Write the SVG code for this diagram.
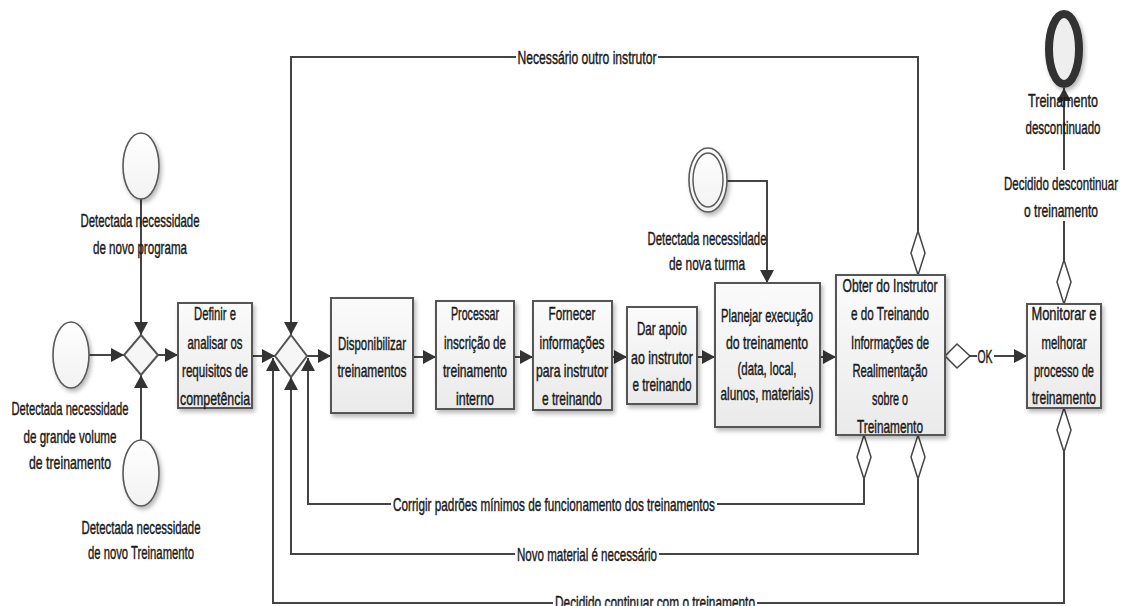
<svg xmlns="http://www.w3.org/2000/svg" width="1121" height="606" viewBox="0 0 1121 606">
<style>
.t{font-family:"Liberation Sans",Arial,sans-serif;font-size:19px;fill:#1a1a1a;stroke:#1a1a1a;stroke-width:0.45px;text-anchor:middle}
.bgw{fill:#fff}
.box{fill:url(#bg);stroke:#555;stroke-width:2;filter:url(#sh)}
.ev{fill:url(#eg);stroke:#5a5a5a;stroke-width:1.6;filter:url(#sh)}
.gw{fill:#f6f6f6;stroke:#555;stroke-width:2}
.cd{fill:#fff;stroke:#444;stroke-width:1.5}
.ln{fill:none;stroke:#444;stroke-width:2}
.ar{marker-end:url(#ah)}
</style>
<defs>
<linearGradient id="bg" x1="0" y1="0" x2="0" y2="1"><stop offset="0" stop-color="#fbfbfb"/><stop offset="1" stop-color="#eaeaea"/></linearGradient>
<linearGradient id="eg" x1="0" y1="0" x2="0" y2="1"><stop offset="0" stop-color="#ffffff"/><stop offset="1" stop-color="#f2f2f2"/></linearGradient>
<filter id="sh" x="-20%" y="-20%" width="150%" height="150%"><feDropShadow dx="2" dy="3" stdDeviation="2" flood-color="#000" flood-opacity="0.28"/></filter>
<marker id="ah" markerUnits="userSpaceOnUse" markerWidth="14" markerHeight="14" refX="13" refY="7" orient="auto"><path d="M0,0 L13,7 L0,14 z" fill="#333"/></marker>
</defs>

<g id="connectors">
<path class="ln ar" d="M141,199 V335"/>
<path class="ln ar" d="M89,355 H124"/>
<path class="ln ar" d="M141,440 V375"/>
<path class="ln ar" d="M158,355 H178"/>
<path class="ln ar" d="M252,356 H275"/>
<path class="ln ar" d="M307,356 H331"/>
<path class="ln ar" d="M413,357 H436"/>
<path class="ln ar" d="M514,357 H533"/>
<path class="ln ar" d="M612,357 H627"/>
<path class="ln ar" d="M697,357 H715"/>
<path class="ln ar" d="M820,357 H836"/>
<path class="ln ar" d="M727,181 H767 V283"/>
<path class="ln" d="M970,356 H977"/>
<path class="ln ar" d="M994,356 H1027"/>
<path class="ln ar" d="M918,231 V57 H291 V335"/>
<path class="ln ar" d="M864,479 V504 H308 V358"/>
<path class="ln ar" d="M918,479 V554 H291 V377"/>
<path class="ln ar" d="M1064,452 V603 H273 V358"/>
<path class="ln" d="M1064,260 V221"/>
<path class="ln ar" d="M1064,170 V88"/>
<polygon class="cd" points="918,231 925,253 918,275 911,253"/>
<polygon class="cd" points="864,435 871,457 864,479 857,457"/>
<polygon class="cd" points="918,435 925,457 918,479 911,457"/>
<polygon class="cd" points="1064,260 1071,282 1064,304 1057,282"/>
<polygon class="cd" points="1064,408 1071,430 1064,452 1057,430"/>
<polygon class="cd" points="945,356 957,344 970,356 957,368"/>
<rect class="bgw" x="516" y="47" width="142" height="20"/>
<rect class="bgw" x="391" y="494" width="326" height="20"/>
<rect class="bgw" x="515" y="544" width="144" height="20"/>
<rect class="bgw" x="553" y="594" width="204" height="12"/>
<text class="t" x="985" y="363" textLength="15" lengthAdjust="spacingAndGlyphs">OK</text>
<text class="t" x="587" y="64" textLength="139" lengthAdjust="spacingAndGlyphs">Necessário outro instrutor</text>
<text class="t" x="554" y="511" textLength="322" lengthAdjust="spacingAndGlyphs">Corrigir padrões mínimos de funcionamento dos treinamentos</text>
<text class="t" x="587" y="561" textLength="140" lengthAdjust="spacingAndGlyphs">Novo material é necessário</text>
<text class="t" x="655" y="609" textLength="200" lengthAdjust="spacingAndGlyphs">Decidido continuar com o treinamento</text>
<text class="t" x="1061" y="190" textLength="114" lengthAdjust="spacingAndGlyphs">Decidido descontinuar</text>
<text class="t" x="1061" y="217" textLength="74" lengthAdjust="spacingAndGlyphs">o treinamento</text>
</g>

<g id="ev-programa">
<ellipse class="ev" cx="141" cy="166" rx="18" ry="33"/>
<text class="t" x="140" y="227" textLength="119" lengthAdjust="spacingAndGlyphs">Detectada necessidade</text>
<text class="t" x="140" y="254" textLength="94" lengthAdjust="spacingAndGlyphs">de novo programa</text>
</g>
<g id="ev-volume">
<ellipse class="ev" cx="71" cy="355" rx="18" ry="33"/>
<text class="t" x="70" y="415" textLength="117" lengthAdjust="spacingAndGlyphs">Detectada necessidade</text>
<text class="t" x="70" y="443" textLength="93" lengthAdjust="spacingAndGlyphs">de grande volume</text>
<text class="t" x="70" y="469" textLength="82" lengthAdjust="spacingAndGlyphs">de treinamento</text>
</g>
<g id="ev-treinamento">
<ellipse class="ev" cx="141" cy="473" rx="18" ry="33"/>
<text class="t" x="141" y="534" textLength="119" lengthAdjust="spacingAndGlyphs">Detectada necessidade</text>
<text class="t" x="141" y="559" textLength="106" lengthAdjust="spacingAndGlyphs">de novo Treinamento</text>
</g>
<g id="gw1"><polygon class="gw" points="141,335 158,355 141,375 124,355"/></g>
<g id="definir">
<rect class="box" x="178" y="303" width="74" height="105"/>
<text class="t" x="215" y="320" textLength="42" lengthAdjust="spacingAndGlyphs">Definir e</text>
<text class="t" x="215" y="349" textLength="55" lengthAdjust="spacingAndGlyphs">analisar os</text>
<text class="t" x="215" y="377" textLength="66" lengthAdjust="spacingAndGlyphs">requisitos de</text>
<text class="t" x="215" y="405" textLength="70" lengthAdjust="spacingAndGlyphs">competência</text>
</g>
<g id="gw2"><polygon class="gw" points="291,335 307,356 291,377 275,356"/></g>
<g id="disponibilizar">
<rect class="box" x="331" y="298" width="82" height="115"/>
<text class="t" x="372" y="350" textLength="68" lengthAdjust="spacingAndGlyphs">Disponibilizar</text>
<text class="t" x="372" y="377" textLength="69" lengthAdjust="spacingAndGlyphs">treinamentos</text>
</g>
<g id="processar">
<rect class="box" x="436" y="301" width="78" height="108"/>
<text class="t" x="475" y="320" textLength="48" lengthAdjust="spacingAndGlyphs">Processar</text>
<text class="t" x="475" y="349" textLength="62" lengthAdjust="spacingAndGlyphs">inscrição de</text>
<text class="t" x="475" y="377" textLength="64" lengthAdjust="spacingAndGlyphs">treinamento</text>
<text class="t" x="475" y="405" textLength="38" lengthAdjust="spacingAndGlyphs">interno</text>
</g>
<g id="fornecer">
<rect class="box" x="533" y="301" width="79" height="109"/>
<text class="t" x="572" y="320" textLength="47" lengthAdjust="spacingAndGlyphs">Fornecer</text>
<text class="t" x="572" y="349" textLength="65" lengthAdjust="spacingAndGlyphs">informações</text>
<text class="t" x="572" y="377" textLength="72" lengthAdjust="spacingAndGlyphs">para instrutor</text>
<text class="t" x="572" y="405" textLength="60" lengthAdjust="spacingAndGlyphs">e treinando</text>
</g>
<g id="apoio">
<rect class="box" x="627" y="307" width="70" height="97"/>
<text class="t" x="662" y="335" textLength="50" lengthAdjust="spacingAndGlyphs">Dar apoio</text>
<text class="t" x="662" y="364" textLength="62" lengthAdjust="spacingAndGlyphs">ao instrutor</text>
<text class="t" x="662" y="391" textLength="59" lengthAdjust="spacingAndGlyphs">e treinando</text>
</g>
<g id="ev-turma">
<ellipse class="ev" cx="708" cy="180" rx="19" ry="32"/>
<ellipse cx="708" cy="180" rx="15" ry="27" fill="none" stroke="#5a5a5a" stroke-width="1.5"/>
<text class="t" x="707" y="245" textLength="119" lengthAdjust="spacingAndGlyphs">Detectada necessidade</text>
<text class="t" x="707" y="270" textLength="76" lengthAdjust="spacingAndGlyphs">de nova turma</text>
</g>
<g id="planejar">
<rect class="box" x="715" y="283" width="105" height="144"/>
<text class="t" x="767" y="322" textLength="92" lengthAdjust="spacingAndGlyphs">Planejar execução</text>
<text class="t" x="767" y="349" textLength="82" lengthAdjust="spacingAndGlyphs">do treinamento</text>
<text class="t" x="767" y="375" textLength="59" lengthAdjust="spacingAndGlyphs">(data, local,</text>
<text class="t" x="767" y="400" textLength="93" lengthAdjust="spacingAndGlyphs">alunos, materiais)</text>
</g>
<g id="obter">
<rect class="box" x="836" y="275" width="109" height="160"/>
<text class="t" x="890" y="292" textLength="95" lengthAdjust="spacingAndGlyphs">Obter do Instrutor</text>
<text class="t" x="890" y="320" textLength="78" lengthAdjust="spacingAndGlyphs">e do Treinando</text>
<text class="t" x="890" y="349" textLength="78" lengthAdjust="spacingAndGlyphs">Informações de</text>
<text class="t" x="890" y="377" textLength="75" lengthAdjust="spacingAndGlyphs">Realimentação</text>
<text class="t" x="890" y="405" textLength="36" lengthAdjust="spacingAndGlyphs">sobre o</text>
<text class="t" x="890" y="433" textLength="66" lengthAdjust="spacingAndGlyphs">Treinamento</text>
</g>
<g id="monitorar">
<rect class="box" x="1027" y="304" width="74" height="104"/>
<text class="t" x="1064" y="320" textLength="65" lengthAdjust="spacingAndGlyphs">Monitorar e</text>
<text class="t" x="1064" y="349" textLength="45" lengthAdjust="spacingAndGlyphs">melhorar</text>
<text class="t" x="1064" y="377" textLength="60" lengthAdjust="spacingAndGlyphs">processo de</text>
<text class="t" x="1064" y="404" textLength="64" lengthAdjust="spacingAndGlyphs">treinamento</text>
</g>
<g id="ev-fim">
<ellipse cx="1064" cy="49" rx="15" ry="35" fill="#eeeeee" stroke="#333" stroke-width="8" filter="url(#sh)"/>
<text class="t" x="1063" y="107" textLength="70" lengthAdjust="spacingAndGlyphs">Treinamento</text>
<text class="t" x="1063" y="134" textLength="75" lengthAdjust="spacingAndGlyphs">descontinuado</text>
</g>
</svg>
